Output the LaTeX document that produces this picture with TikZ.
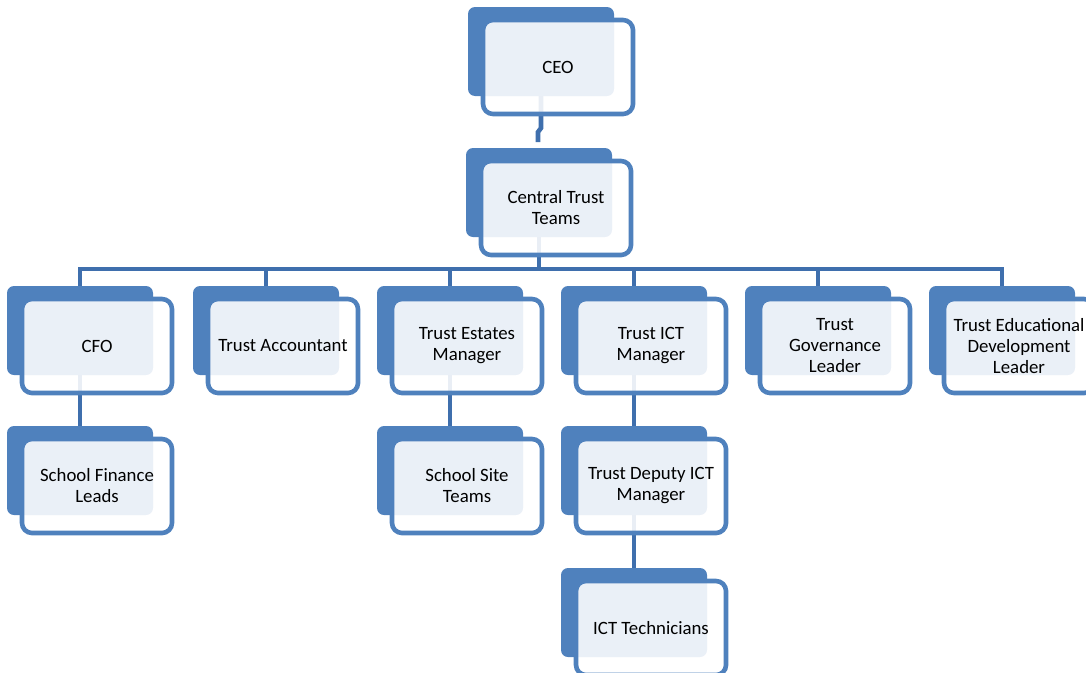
\documentclass[tikz,border=0pt]{standalone}
\usepackage{fontspec}
\setmainfont{Carlito}
\pgfdeclarelayer{background}
\pgfsetlayers{background,main}
\definecolor{backc}{HTML}{4F81BD}
\definecolor{linec}{HTML}{3F6FAD}
\tikzset{
  backbox/.style={fill=backc, rounded corners=7pt},
  frontbox/.style={draw=backc, line width=4.6pt, fill=white, fill opacity=0.885, draw opacity=1, rounded corners=10pt},
  lbl/.style={align=center, font=\fontsize{18.8}{21}\selectfont, text=black, inner sep=0pt},
  conn/.style={draw=linec, line width=4.6pt}
}
\newcommand\obox[4]{%
  \fill[backbox] (#2,#3) rectangle ++(146,89);
  \draw[frontbox] (#2+15,#3+13) rectangle ++(150,94);
  \node[lbl] (#1) at (#2+90,#3+60) {#4};
  \coordinate (#1-top) at (#2+73,#3);
  \coordinate (#1-bot) at (#2+73,#3+89);
}
\begin{document}
\begin{tikzpicture}[x=1pt,y=-1pt]
\useasboundingbox (0,0) rectangle (1086,672);
\clip (0,0) rectangle (1086,672);
\obox{ceo}{468}{7}{CEO}
\obox{ctt}{466}{148}{Central Trust\\Teams}
\obox{cfo}{7}{286}{CFO}
\obox{ta}{193}{286}{Trust Accountant}
\obox{tem}{377}{286}{Trust Estates\\Manager}
\obox{tict}{561}{286}{Trust ICT\\Manager}
\obox{tgl}{745}{286}{Trust\\Governance\\Leader}
\obox{tedl}{929}{286}{Trust Educational\\Development\\Leader}
\obox{sfl}{7}{426}{School Finance\\Leads}
\obox{sst}{377}{426}{School Site\\Teams}
\obox{tdict}{561}{426}{Trust Deputy ICT\\Manager}
\obox{ictt}{561}{568}{ICT Technicians}
\begin{pgfonlayer}{background}
  \draw[conn] (ceo-bot) -- ++(0,32) -- ++(-3,4) -- ++(0,10);
  \draw[conn] (ctt-bot) -- ++(0,32) coordinate (bus);
  \draw[conn] ([yshift=-1pt]cfo-top) -- (cfo-top |- bus) -- (tedl-top |- bus) -- ([yshift=-1pt]tedl-top);
  \foreach \c in {ta,tem,tict,tgl}{
    \draw[conn] ([yshift=-1pt]\c-top) -- (\c-top |- bus);
  }
  \draw[conn] (cfo-bot) -- ([yshift=-6pt]sfl-top);
  \draw[conn] (tem-bot) -- ([yshift=-6pt]sst-top);
  \draw[conn] (tict-bot) -- ([yshift=-6pt]tdict-top);
  \draw[conn] (tdict-bot) -- ([yshift=-6pt]ictt-top);
\end{pgfonlayer}
\end{tikzpicture}
\end{document}
